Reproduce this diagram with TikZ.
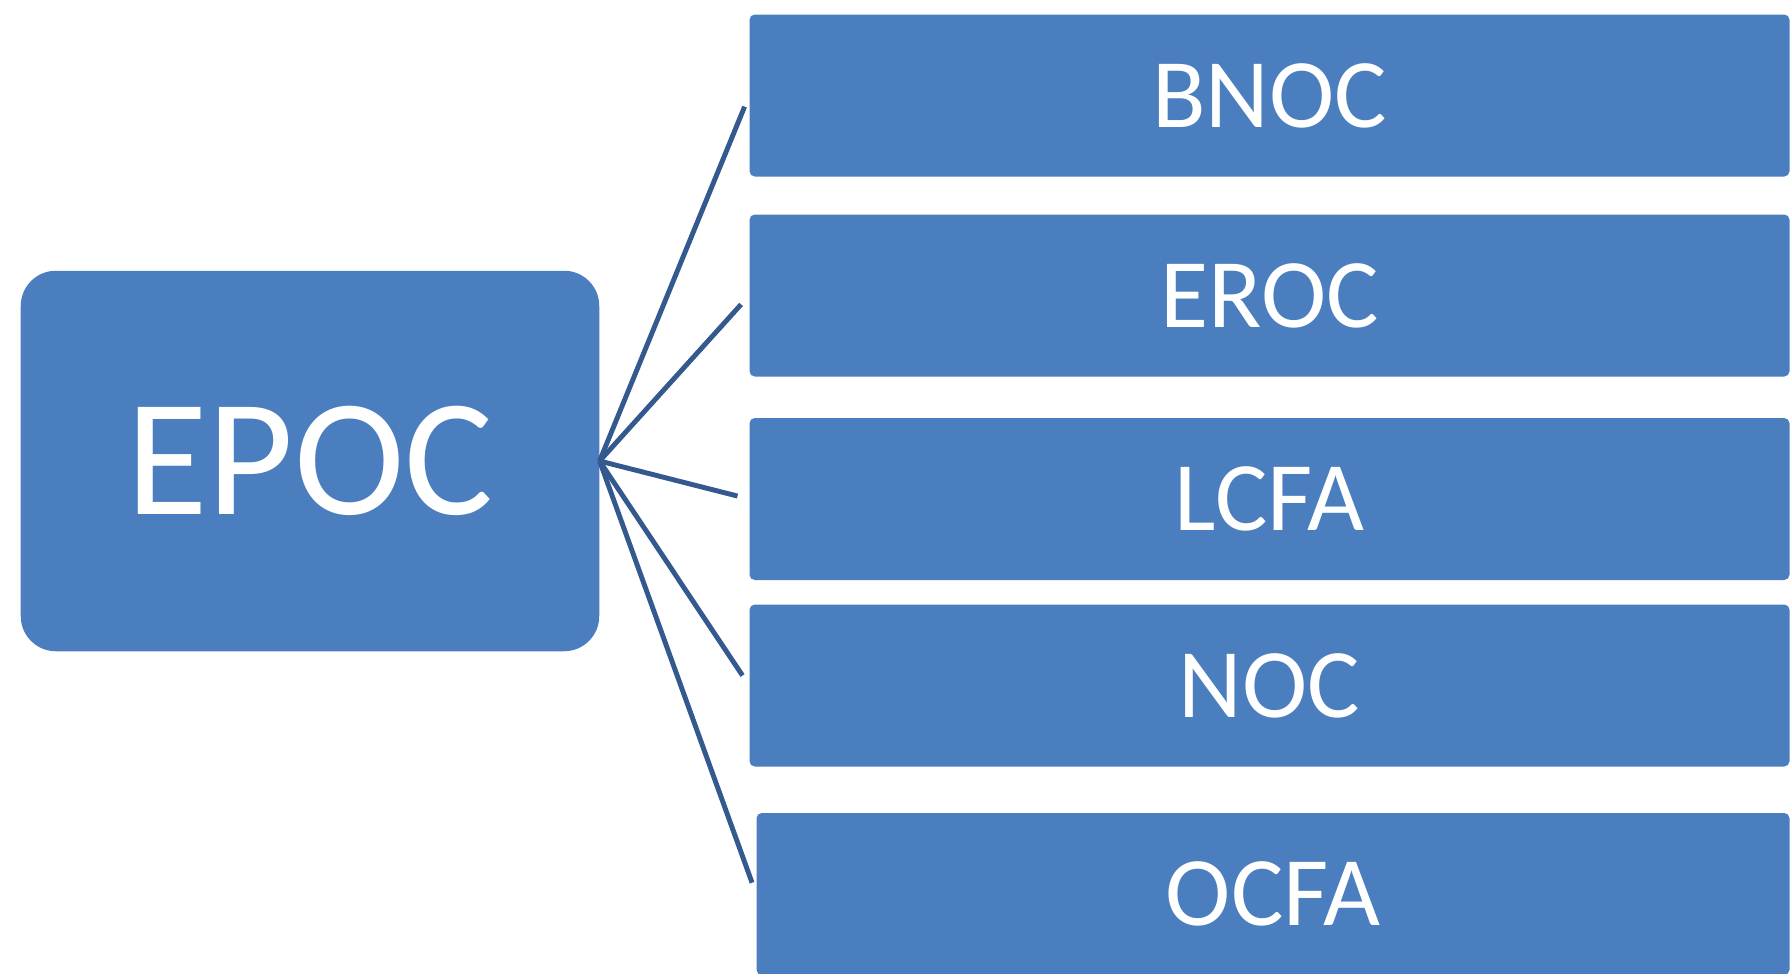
\documentclass[tikz,border=0pt]{standalone}
\usepackage{fontspec}
\setmainfont{Carlito}
\definecolor{boxblue}{HTML}{4A7EBF}
\definecolor{linknavy}{HTML}{34598F}
\tikzset{
 sub/.style={fill=boxblue,rounded corners=3pt,minimum width=20.8cm,minimum height=3.24cm,text=white,font=\fontsize{56}{60}\selectfont},
 link/.style={linknavy,line width=2.8pt,shorten >=0.24cm}
}
\begin{document}
\begin{tikzpicture}
 \useasboundingbox (0,0) rectangle (35.84,-19.48); %全体
 \node[fill=boxblue,rounded corners=20pt,minimum width=11.57cm,minimum height=7.61cm,text=white,font=\fontsize{95}{100}\selectfont] (epoc) at (6.2,-9.22) {EPOC}; %親
 \node[sub] (bnoc) at (25.39,-1.91) {BNOC};
 \node[sub] (eroc) at (25.39,-5.91) {EROC};
 \node[sub] (lcfa) at (25.39,-9.98) {LCFA};
 \node[sub] (noc) at (25.39,-13.71) {NOC};
 \node[sub,minimum width=20.66cm] (ocfa) at (25.46,-17.88) {OCFA};
 \foreach \k in {bnoc,eroc,lcfa,noc,ocfa}
  \draw[link] (epoc.east)--(\k.west); %枝
\end{tikzpicture}
\end{document}
